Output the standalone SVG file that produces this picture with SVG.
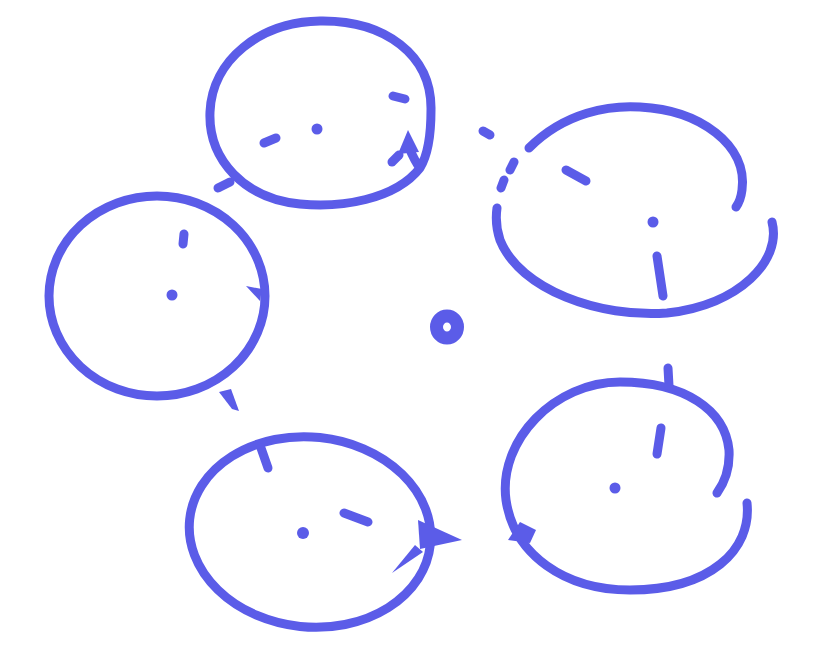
<svg xmlns="http://www.w3.org/2000/svg" width="817" height="661" viewBox="0 0 817 661">
<style>
.s{fill:none;stroke:#5b5ce8;stroke-width:9;stroke-linecap:round;stroke-linejoin:round}
.d{fill:none;stroke:#5b5ce8;stroke-width:9;stroke-linecap:round}
.f{fill:#5b5ce8;stroke:none}
</style>
<rect width="817" height="661" fill="#ffffff"/>
<g id="circle-top">
<path class="s" d="M 420,168 C 395,200 340,208 300,204 C 245,199 208,160 210,112 C 212,60 260,22 320,21 C 385,20 432,55 431,110 C 431,135 428,155 420,168 C 414,160 411,152 408,145"/>
<path class="f" d="M 398,154 L 408,130 L 419,152 Z"/>
<path class="d" d="M 392,162 L 399,155"/>
<path class="d" d="M 393,96 L 405,99"/>
<circle class="f" cx="317" cy="129" r="5.5"/>
<path class="d" d="M 264,143 L 276,138"/>
</g>
<g id="circle-right">
<path class="s" d="M 529,148 C 565,112 610,105 640,107 C 700,110 748,145 742,190 C 741,198 739,203 736,207"/>
<path class="s" d="M 772,222 C 782,260 740,305 667,313 C 600,318 520,290 500,240 C 495,225 496,215 497,208"/>
<path class="s" d="M 501,188 L 504,180 M 510,170 L 514,162"/>
<path class="d" d="M 483,131 L 490,135"/>
<path class="d" d="M 566,170 L 586,181"/>
<circle class="f" cx="653" cy="222" r="5.5"/>
<path class="d" d="M 657,256 L 663,296"/>
</g>
<g id="circle-left">
<ellipse class="s" cx="157" cy="296" rx="108" ry="100"/>
<path class="d" d="M 184,234 L 183,244"/>
<circle class="f" cx="172" cy="295" r="5.5"/>
<path class="f" d="M 246,286 L 262,289 L 260,301 Z"/>
<path class="f" d="M 219,392 L 231,389 L 239,411 L 232,409 Z"/>
<path class="d" d="M 218,188 L 230,182"/>
</g>
<g id="circle-bottom-left">
<ellipse class="s" cx="310" cy="532" rx="121" ry="95" transform="rotate(6 310 532)"/>
<path class="f" d="M 418,520 L 462,540 L 420,549 Z"/>
<path class="f" d="M 392,573 L 415,545 L 423,552 Z"/>
<path class="d" d="M 261,448 L 268,468"/>
<path class="d" d="M 344,513 L 368,522"/>
<circle class="f" cx="303" cy="533" r="6"/>
</g>
<g id="circle-bottom-right">
<path class="s" d="M 747,503 C 752,550 710,590 630,590 C 565,590 514,555 506,500 C 498,440 555,382 620,382 C 685,382 725,410 729,450 C 730,468 725,482 717,493"/>
<path class="d" d="M 668,368 L 669,386"/>
<path class="f" d="M 508,540 L 520,522 L 536,530 L 530,543 Z"/>
<path class="d" d="M 661,428 L 657,454"/>
<circle class="f" cx="615" cy="488" r="5.5"/>
</g>
<g id="center-ring">
<ellipse cx="447" cy="327" rx="10.5" ry="11" fill="none" stroke="#5b5ce8" stroke-width="13"/>
</g>
</svg>
